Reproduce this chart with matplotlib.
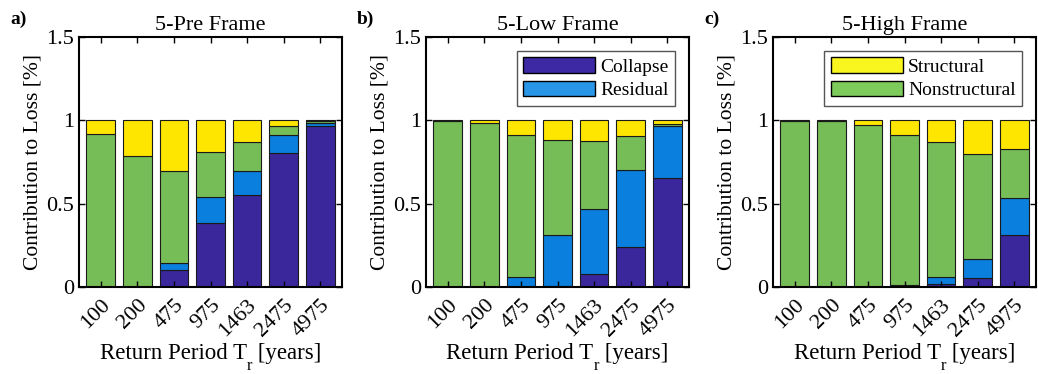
import numpy as np
import matplotlib.pyplot as plt
from matplotlib.patches import Patch

plt.rcParams['font.family'] = ['Liberation Serif', 'DejaVu Serif']

periods = ['100', '200', '475', '975', '1463', '2475', '4975']
titles = ['5-Pre Frame', '5-Low Frame', '5-High Frame']
tags = ['a)', 'b)', 'c)']

# cumulative tops: collapse, +residual, +nonstructural
pre_collapse = [0.0, 0.0, 0.10, 0.386, 0.55, 0.807, 0.966]
pre_resid = [0.0, 0.0, 0.145, 0.538, 0.697, 0.91, 0.986]
pre_nonst = [0.918, 0.787, 0.695, 0.813, 0.871, 0.966, 0.994]

low_collapse = [0.0, 0.0, 0.0, 0.008, 0.08, 0.241, 0.653]
low_resid = [0.0, 0.0, 0.06, 0.311, 0.468, 0.705, 0.964]
low_nonst = [0.998, 0.984, 0.912, 0.88, 0.876, 0.906, 0.98]

high_collapse = [0.0, 0.0, 0.0, 0.003, 0.016, 0.054, 0.313]
high_resid = [0.0, 0.0, 0.0, 0.014, 0.058, 0.169, 0.536]
high_nonst = [0.998, 0.998, 0.974, 0.91, 0.87, 0.797, 0.829]

data = [(pre_collapse, pre_resid, pre_nonst),
        (low_collapse, low_resid, low_nonst),
        (high_collapse, high_resid, high_nonst)]

c_col = '#3A279C'
c_res = '#0A7FDD'
c_non = '#77BD57'
c_str = '#FFE600'
# legend swatches come out a bit lighter in the reference
l_col = '#3C29A3'
l_res = '#2A96E8'
l_non = '#7DCB5A'
l_str = '#F9F51E'

fig = plt.figure(figsize=(10.38, 3.74), dpi=100)
lefts = [79, 426, 773]
W, H = 1038, 374
x = np.arange(1, 8)
axes = []

for i in range(3):
    ax = fig.add_axes([lefts[i] / W, (H - 287) / H, 263 / W, 250 / H])
    axes.append(ax)
    col, res, non = [np.array(v) for v in data[i]]
    segs = [(np.zeros(7), col, c_col),
            (col, res - col, c_res),
            (res, non - res, c_non),
            (non, 1 - non, c_str)]
    for bot, h, c in segs:
        ax.bar(x, h, 0.79, bottom=bot, color=c, edgecolor='#1a1a1a',
               linewidth=0.8)
    ax.set_xlim(0.4, 7.6)
    ax.set_ylim(0, 1.5)
    ax.set_yticks([0, 0.5, 1, 1.5])
    ax.set_yticklabels(['0', '0.5', '1', '1.5'])
    ax.set_xticks(x)
    ax.set_xticklabels(periods, rotation=45, ha='right', va='top',
                       rotation_mode='anchor')
    ax.tick_params(direction='in', top=True, right=True, labelsize=16,
                   length=4, width=1)
    ax.tick_params(axis='x', pad=6)
    for s in ax.spines.values():
        s.set_linewidth(1.5)
    ax.set_ylabel('Contribution to Loss [%]', fontsize=15.5, labelpad=3)
    ax.set_title(titles[i], fontsize=16, pad=5)
    ax.text(-0.262, 1.036, tags[i], transform=ax.transAxes, fontsize=14,
            fontweight='bold', ha='left', va='bottom')
    lkw = dict(loc='upper right', fontsize=14, handlelength=3.7,
               handleheight=0.85, fancybox=False, framealpha=1,
               edgecolor='#555555', borderaxespad=0.7,
               labelspacing=0.25, handletextpad=0.25, borderpad=0.35)
    if i == 1:
        hs = [Patch(facecolor=l_col, edgecolor='black'),
              Patch(facecolor=l_res, edgecolor='black')]
        ax.legend(hs, ['Collapse', 'Residual'], **lkw)
    if i == 2:
        hs = [Patch(facecolor=l_str, edgecolor='black'),
              Patch(facecolor=l_non, edgecolor='black')]
        ax.legend(hs, ['Structural', 'Nonstructural'], **lkw)

# x label with a low-set subscript r
fig.canvas.draw()
r = fig.canvas.get_renderer()
for ax in axes:
    y0 = 1 - 359 / H
    parts = [('Return Period T', 16.5, 0), ('r', 12, -11), (' [years]', 16.5, 0)]
    txts = [fig.text(0, y0, p, fontsize=fs, va='baseline') for p, fs, dy in parts]
    widths = [t.get_window_extent(r).width for t in txts]
    cx = (ax.get_position().x0 + ax.get_position().x1) / 2 * W
    start = cx - sum(widths) / 2
    for t, w, (p, fs, dy) in zip(txts, widths, parts):
        t.set_position((start / W, y0 + dy / H))
        start += w

fig.savefig('out.png', dpi=100)
